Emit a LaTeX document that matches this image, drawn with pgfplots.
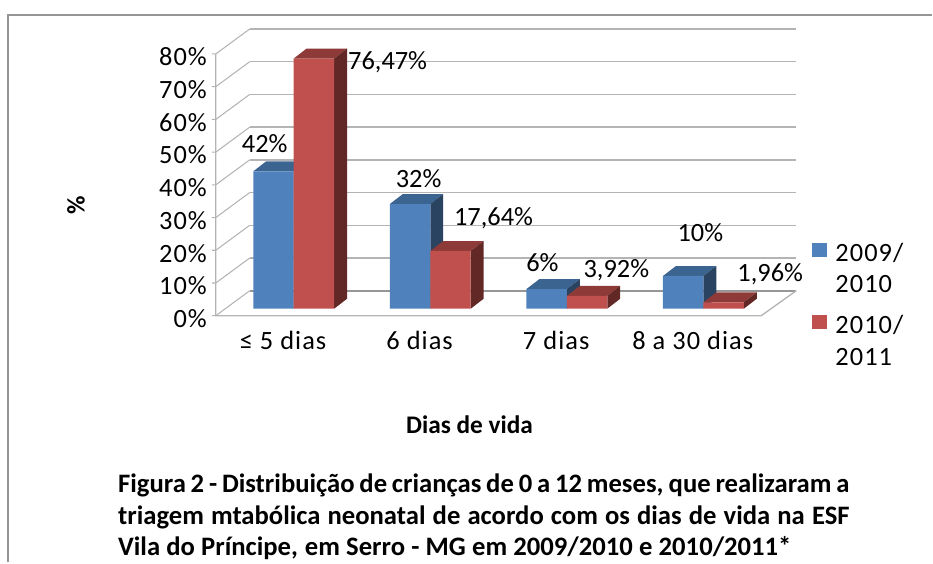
\documentclass[border=0pt]{standalone}
\usepackage{fontspec}
\setmainfont{Carlito}
\newfontfamily\spaced{Carlito}[LetterSpace=4]
\usepackage{pgfplots}
\pgfplotsset{compat=1.18}
\definecolor{framec}{HTML}{959595}
\definecolor{gridc}{HTML}{B4B4B4}
\definecolor{floorc}{HTML}{969696}
\definecolor{frontb}{HTML}{4F81BD}
\definecolor{topb}{HTML}{3C6491}
\definecolor{sideb}{HTML}{2A4361}
\definecolor{frontr}{HTML}{C0504D}
\definecolor{topr}{HTML}{8E3A38}
\definecolor{sider}{HTML}{622826}
\newcommand{\tl}{\fontsize{19.8pt}{22pt}\selectfont}
\newcommand{\bl}{\fontsize{19pt}{22pt}\selectfont\bfseries}
\newcommand{\cp}{\fontsize{20pt}{22pt}\selectfont\bfseries\spaceskip=0.13em plus 1em minus 0.03em\relax}
\begin{document}
\begin{tikzpicture}[x=0.75pt,y=-0.75pt]
\path (0,0) rectangle (933,563);
\draw[color=framec,line width=1.4pt] (8,563) -- (8,15) -- (933,15);
\begin{axis}[
  at={(162pt,-231.75pt)},anchor=south west,scale only axis,
  width=409.5pt,height=196.5pt,
  xmin=-0.5706,xmax=3.4236,ymin=0,ymax=80,
  clip=false,
  axis line style={draw=none},
  tick style={draw=none},
  xtick={0,1,2,3},
  xticklabels={{≤ 5 dias},{6 dias},{7 dias},{8 a 30 dias}},
  ytick={0,10,20,30,40,50,60,70,80},
  yticklabels={0\%,10\%,20\%,30\%,40\%,50\%,60\%,70\%,80\%},
  yticklabel style={font=\tl\spaced,anchor=east,xshift=-6.5pt,yshift=-7.5pt,inner sep=0pt},
  xticklabel style={font=\tl\spaced,anchor=base,xshift=-8pt,yshift=-31pt,inner sep=0pt},
  every axis plot/.append style={forget plot},
]
% back wall grid
\addplot[floorc,line width=1.2pt] coordinates {(-0.322,5.5)(3.680,5.5)};
\addplot[gridc,line width=1.1pt] coordinates {(-0.322,15.5)(3.680,15.5)};
\addplot[gridc,line width=1.1pt] coordinates {(-0.322,25.5)(3.680,25.5)};
\addplot[gridc,line width=1.1pt] coordinates {(-0.322,35.5)(3.680,35.5)};
\addplot[gridc,line width=1.1pt] coordinates {(-0.322,45.5)(3.680,45.5)};
\addplot[gridc,line width=1.1pt] coordinates {(-0.322,55.5)(3.680,55.5)};
\addplot[gridc,line width=1.1pt] coordinates {(-0.322,65.5)(3.680,65.5)};
\addplot[gridc,line width=1.1pt] coordinates {(-0.322,75.5)(3.680,75.5)};
\addplot[gridc,line width=1.1pt] coordinates {(-0.322,85.5)(3.680,85.5)};
% left wall diagonals with their ticks
\addplot[gridc,line width=0.8pt] coordinates {(-0.600,-2.14)(-0.5706,-2.14)(-0.322,5.5)};
\addplot[gridc,line width=0.8pt] coordinates {(-0.600,7.86)(-0.5706,7.86)(-0.322,15.5)};
\addplot[gridc,line width=0.8pt] coordinates {(-0.600,17.86)(-0.5706,17.86)(-0.322,25.5)};
\addplot[gridc,line width=0.8pt] coordinates {(-0.600,27.86)(-0.5706,27.86)(-0.322,35.5)};
\addplot[gridc,line width=0.8pt] coordinates {(-0.600,37.86)(-0.5706,37.86)(-0.322,45.5)};
\addplot[gridc,line width=0.8pt] coordinates {(-0.600,47.86)(-0.5706,47.86)(-0.322,55.5)};
\addplot[gridc,line width=0.8pt] coordinates {(-0.600,57.86)(-0.5706,57.86)(-0.322,65.5)};
\addplot[gridc,line width=0.8pt] coordinates {(-0.600,67.86)(-0.5706,67.86)(-0.322,75.5)};
\addplot[gridc,line width=0.8pt] coordinates {(-0.600,77.86)(-0.5706,77.86)(-0.322,85.5)};
% left edge, floor
\addplot[gridc,line width=1pt] coordinates {(-0.5706,77.86)(-0.5706,-2.14)(3.4236,-2.14)(3.680,5.5)};
% blue series
\addplot[fill=topb,draw=none,unbounded coords=jump] coordinates {
 (-.296,42)(0,42)(.095,45.05)(-.201,45.05)(nan,nan)
 (.704,32)(1,32)(1.095,35.05)(.799,35.05)(nan,nan)
 (1.704,6)(2,6)(2.095,9.05)(1.799,9.05)(nan,nan)
 (2.704,10)(3,10)(3.095,13.05)(2.799,13.05)};
\addplot[fill=sideb,draw=none,unbounded coords=jump] coordinates {
 (0,0)(.095,3.05)(.095,45.05)(0,42)(nan,nan)
 (1,0)(1.095,3.05)(1.095,35.05)(1,32)(nan,nan)
 (2,0)(2.095,3.05)(2.095,9.05)(2,6)(nan,nan)
 (3,0)(3.095,3.05)(3.095,13.05)(3,10)};
\addplot[ybar,bar width=0.296,bar shift=-0.148,fill=frontb,draw=none] coordinates {(0,42)(1,32)(2,6)(3,10)};
% red series
\addplot[fill=topr,draw=none,unbounded coords=jump] coordinates {
 (0,76.47)(.296,76.47)(.391,79.52)(.095,79.52)(nan,nan)
 (1,17.64)(1.296,17.64)(1.391,20.69)(1.095,20.69)(nan,nan)
 (2,3.92)(2.296,3.92)(2.391,6.97)(2.095,6.97)(nan,nan)
 (3,1.96)(3.296,1.96)(3.391,5.01)(3.095,5.01)};
\addplot[fill=sider,draw=none,unbounded coords=jump] coordinates {
 (.296,0)(.391,3.05)(.391,79.52)(.296,76.47)(nan,nan)
 (1.296,0)(1.391,3.05)(1.391,20.69)(1.296,17.64)(nan,nan)
 (2.296,0)(2.391,3.05)(2.391,6.97)(2.296,3.92)(nan,nan)
 (3.296,0)(3.391,3.05)(3.391,5.01)(3.296,1.96)};
\addplot[ybar,bar width=0.296,bar shift=0.148,fill=frontr,draw=none] coordinates {(0,76.47)(1,17.64)(2,3.92)(3,1.96)};
\end{axis}
% data labels
\begin{scope}[every node/.style={inner sep=0pt,anchor=base,font=\tl}]
\node at (265,153) {42\%};
\node at (388,70) {76,47\%};
\node at (419,188) {32\%};
\node at (494,226) {17,64\%};
\node at (543,272) {6\%};
\node at (617,278) {3,92\%};
\node at (701,242) {10\%};
\node at (771,282) {1,96\%};
\end{scope}
% legend
\fill[frontb] (813,243) rectangle (828,257);
\fill[frontr] (813,315) rectangle (828,329);
\begin{scope}[every node/.style={inner sep=0pt,anchor=base west,font=\tl\spaced}]
\node at (836,262) {2009/};
\node at (836,293) {2010};
\node at (836,334) {2010/};
\node at (836,366) {2011};
\end{scope}
% axis titles and caption
\begin{scope}[every node/.style={inner sep=0pt,font=\bl}]
\node[rotate=90,anchor=center] at (76,205) {\%};
\node[anchor=base] at (470,434) {Dias de vida};
\node[anchor=base west,font=\cp] at (118,493) {\makebox[549pt][s]{Figura 2 - Distribuição de crianças de 0 a 12 meses, que realizaram a}};
\node[anchor=base west,font=\cp] at (118,525) {\makebox[549pt][s]{triagem mtabólica neonatal de acordo com os dias de vida na ESF}};
\node[anchor=base west,font=\cp] at (118,556) {\makebox[505.5pt][s]{Vila do Príncipe, em Serro - MG em 2009/2010 e 2010/2011*}};
\end{scope}
\end{tikzpicture}
\end{document}
